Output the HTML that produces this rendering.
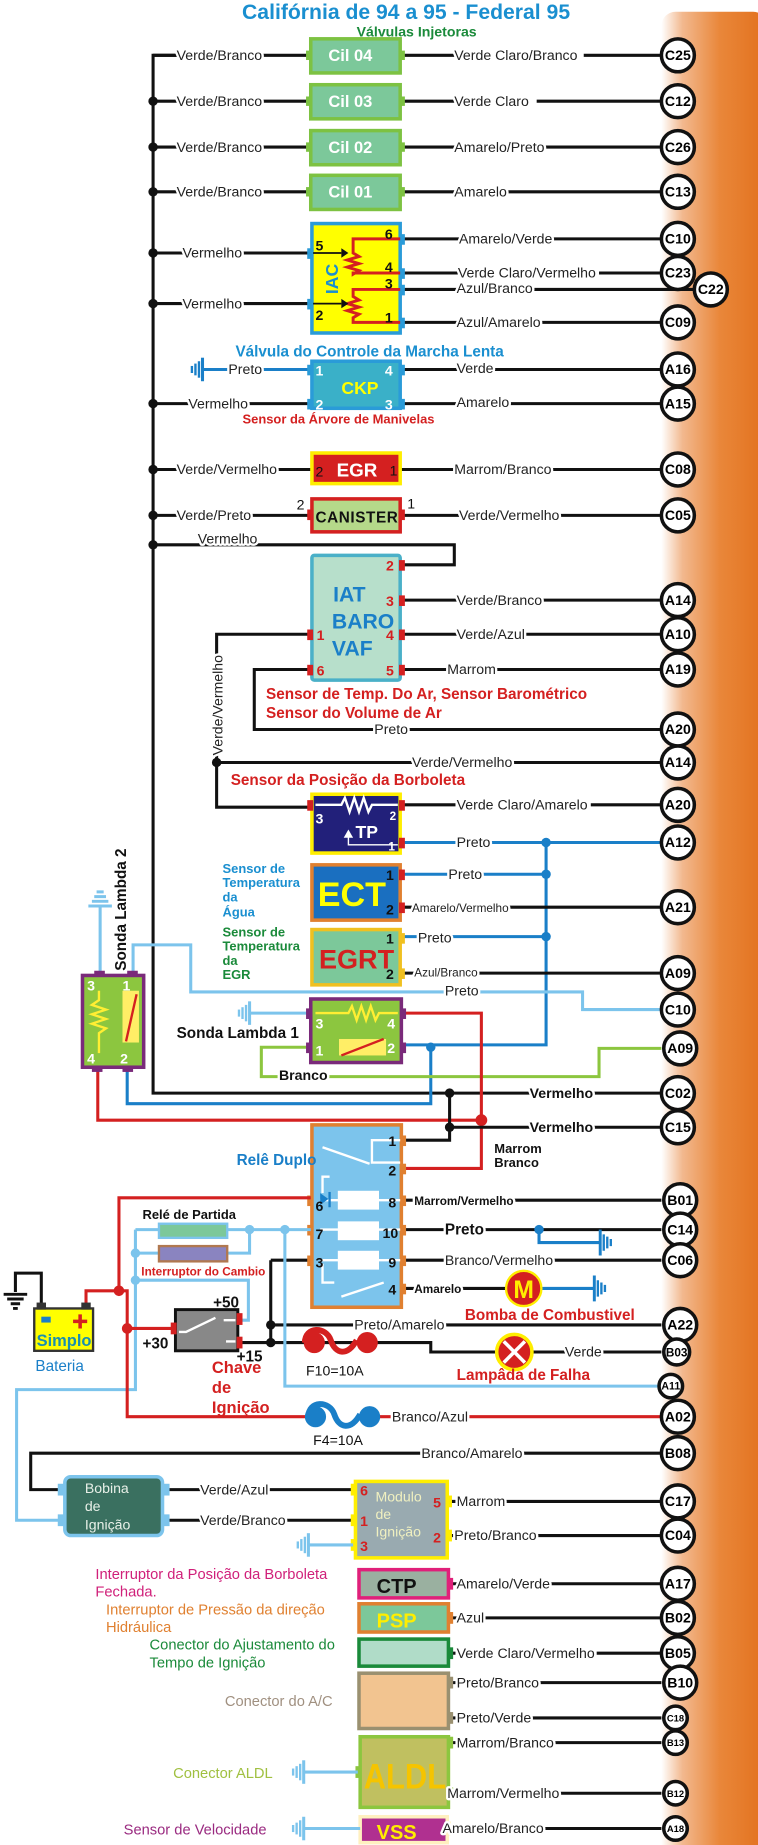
<!DOCTYPE html>
<html><head><meta charset="utf-8">
<style>
html,body{margin:0;padding:0;background:#fff;}
svg{display:block;}
text{font-family:"Liberation Sans",sans-serif;}
.w{stroke:#111;stroke-width:2.6;fill:none;}
.lb{stroke:#7cc4ec;stroke-width:2.6;fill:none;}
.bl{stroke:#1a7fc8;stroke-width:2.6;fill:none;}
.rd{stroke:#d42020;stroke-width:2.6;fill:none;}
.gr{stroke:#8cc63f;stroke-width:2.6;fill:none;}
.lab{font-size:12px;fill:#222;paint-order:stroke;stroke:#fff;stroke-width:4px;stroke-linejoin:round;}
.labb{font-size:12px;font-weight:bold;fill:#111;paint-order:stroke;stroke:#fff;stroke-width:4px;}
.cn{font-size:12px;font-weight:bold;fill:#000;text-anchor:middle;}
.pin{font-size:12px;font-weight:bold;}
</style></head><body>
<svg width="758" height="1845" viewBox="0 0 644 1568" xmlns="http://www.w3.org/2000/svg">
<defs>
<linearGradient id="og" x1="0" x2="1" y1="0" y2="0">
<stop offset="0" stop-color="#ffffff"/><stop offset="0.2" stop-color="#f2b88e"/><stop offset="0.55" stop-color="#e9873a"/><stop offset="1" stop-color="#e2701c"/>
</linearGradient>
<g id="gndL"><line x1="0" y1="-10" x2="0" y2="10" stroke-width="2.6"/><line x1="-3" y1="-7" x2="-3" y2="7" stroke-width="2"/><line x1="-6" y1="-5" x2="-6" y2="5" stroke-width="2"/><line x1="-9" y1="-3" x2="-9" y2="3" stroke-width="2"/></g>
</defs>
<rect x="562" y="10" width="90" height="1570" rx="12" fill="url(#og)"/>

<text x="345" y="16" font-size="18" font-weight="bold" fill="#1a8fd0" text-anchor="middle">Califórnia de 94 a 95 - Federal 95</text>
<text x="354" y="31" font-size="12" font-weight="bold" fill="#1a8a3a" text-anchor="middle">Válvulas Injetoras</text>

<!-- main bus -->
<path class="w" d="M153 47 H130 V929 H562"/>
<g fill="#111">
<circle cx="130" cy="86" r="4"/><circle cx="130" cy="125" r="4"/><circle cx="130" cy="163" r="4"/><circle cx="130" cy="215" r="4"/><circle cx="130" cy="258" r="4"/><circle cx="130" cy="343" r="4"/><circle cx="130" cy="399" r="4"/><circle cx="130" cy="438" r="4"/><circle cx="130" cy="463" r="4"/>
</g>

<!-- injectors -->
<g>
<path class="w" d="M130 47H263M130 86H263M130 125H263M130 163H263M341 47H562M341 86H562M341 125H562M341 163H562"/>
<g fill="#7cc89a" stroke="#7dc242" stroke-width="3">
<rect x="264" y="33" width="76" height="29"/><rect x="264" y="72" width="76" height="29"/><rect x="264" y="111" width="76" height="29"/><rect x="264" y="149" width="76" height="29"/></g>
<g fill="#7dc242"><rect x="260" y="43" width="4" height="8"/><rect x="340" y="43" width="4" height="8"/><rect x="260" y="82" width="4" height="8"/><rect x="340" y="82" width="4" height="8"/><rect x="260" y="121" width="4" height="8"/><rect x="340" y="121" width="4" height="8"/><rect x="260" y="159" width="4" height="8"/><rect x="340" y="159" width="4" height="8"/></g>
<g font-size="14" font-weight="bold" fill="#fff"><text x="279" y="52">Cil 04</text><text x="279" y="91">Cil 03</text><text x="279" y="130">Cil 02</text><text x="279" y="168">Cil 01</text></g>
<g fill="#fff"><rect x="386" y="40" width="110" height="14"/><rect x="386" y="79" width="70" height="14"/></g>
<g class="lab"><text x="150" y="51">Verde/Branco</text><text x="150" y="90">Verde/Branco</text><text x="150" y="129">Verde/Branco</text><text x="150" y="167">Verde/Branco</text>
<text x="386" y="51">Verde Claro/Branco</text><text x="386" y="90">Verde Claro</text><text x="386" y="129">Amarelo/Preto</text><text x="386" y="167">Amarelo</text></g>
</g>

<!-- IAC -->
<path class="w" d="M130 215H264M130 258H264M341 203H562M341 232H562M341 246H600M341 274H562"/>
<rect x="265" y="190" width="75" height="93" fill="#ffff00" stroke="#2a9bd8" stroke-width="3"/>
<g fill="#2a9bd8"><rect x="261" y="211" width="5" height="9"/><rect x="261" y="254" width="5" height="9"/><rect x="339" y="199" width="5" height="9"/><rect x="339" y="228" width="5" height="9"/><rect x="339" y="242" width="5" height="9"/><rect x="339" y="270" width="5" height="9"/></g>
<path d="M340 203H300V215 l5 3 -10 3 10 3 -10 3 10 3 -5 3V232H340 M340 246H300V252 l5 3 -10 3 10 3 -10 3 10 3 -5 3V274H340" stroke="#d42020" stroke-width="2.5" fill="none"/>
<path d="M266 215H290M266 258H290" stroke="#111" stroke-width="1.5"/><path d="M290 211l6 4-6 4zM290 254l6 4-6 4z" fill="#111"/>
<text transform="translate(287,250) rotate(-90)" font-size="15" font-weight="bold" fill="#1a8fd0">IAC</text>
<g class="pin" fill="#111"><text x="268" y="213">5</text><text x="268" y="272">2</text><text x="327" y="203">6</text><text x="327" y="231">4</text><text x="327" y="245">3</text><text x="327" y="274">1</text></g>
<rect x="389" y="225" width="120" height="14" fill="#fff"/>
<g class="lab"><text x="155" y="219">Vermelho</text><text x="155" y="262">Vermelho</text>
<text x="390" y="207">Amarelo/Verde</text><text x="389" y="236">Verde Claro/Vermelho</text><text x="388" y="249">Azul/Branco</text><text x="388" y="278">Azul/Amarelo</text></g>

<text x="200" y="303" font-size="13" font-weight="bold" fill="#1a8fd0">Válvula do Controle da Marcha Lenta</text>
<!-- CKP -->
<path class="bl" d="M172 314H264"/><use href="#gndL" x="172" y="314" stroke="#1a7fc8"/>
<path class="w" d="M130 343H264M341 314H562M341 343H562"/>
<rect x="265" y="307" width="75" height="40" fill="#3ab0c8" stroke="#2a9bd8" stroke-width="3"/>
<g fill="#2a9bd8"><rect x="261" y="310" width="5" height="9"/><rect x="261" y="339" width="5" height="9"/><rect x="339" y="310" width="5" height="9"/><rect x="339" y="339" width="5" height="9"/></g>
<text x="290" y="335" font-size="15" font-weight="bold" fill="#ffff00">CKP</text>
<g class="pin" fill="#fff"><text x="268" y="319">1</text><text x="268" y="348">2</text><text x="327" y="319">4</text><text x="327" y="348">3</text></g>
<g class="lab"><text x="194" y="318">Preto</text><text x="160" y="347">Vermelho</text><text x="388" y="317">Verde</text><text x="388" y="346">Amarelo</text></g>
<text x="206" y="360" font-size="11" font-weight="bold" fill="#d42020">Sensor  da Árvore de Manivelas</text>

<!-- EGR -->
<path class="w" d="M130 399H264M341 399H562"/>
<rect x="265" y="385" width="75" height="26" fill="#d42020" stroke="#ffee00" stroke-width="3"/>
<text x="286" y="405" font-size="16" font-weight="bold" fill="#fff">EGR</text>
<g font-size="12" fill="#111"><text x="268" y="405">2</text><text x="331" y="404">1</text></g>
<g class="lab"><text x="150" y="403">Verde/Vermelho</text><text x="386" y="403">Marrom/Branco</text></g>
<!-- CANISTER -->
<path class="w" d="M130 438H264M341 438H562"/>
<rect x="265" y="424" width="75" height="28" fill="#b5d98a" stroke="#d42020" stroke-width="3"/>
<g fill="#d42020"><rect x="261" y="433" width="5" height="9"/><rect x="339" y="433" width="5" height="9"/></g>
<text x="268" y="444" font-size="13" font-weight="bold" fill="#111" textLength="70">CANISTER</text>
<g font-size="12" fill="#111"><text x="252" y="433">2</text><text x="346" y="432">1</text></g>
<g class="lab"><text x="150" y="442">Verde/Preto</text><text x="390" y="442">Verde/Vermelho</text></g>

<!-- IAT -->
<path class="w" d="M130 463H386V480H341M341 510H562M341 539H562M341 569H562M264 539H184V686H264M264 569H216V620H562M184 648H562"/>
<circle cx="184" cy="648" r="4" fill="#111"/>
<rect x="265" y="472" width="75" height="106" rx="2" fill="#b7dfcb" stroke="#4ab0c8" stroke-width="3"/>
<g fill="#d42020"><rect x="339" y="476" width="5" height="9"/><rect x="339" y="506" width="5" height="9"/><rect x="339" y="535" width="5" height="9"/><rect x="339" y="565" width="5" height="9"/><rect x="261" y="535" width="5" height="9"/><rect x="261" y="565" width="5" height="9"/></g>
<g class="pin" fill="#d42020" font-size="14"><text x="328" y="485">2</text><text x="328" y="515">3</text><text x="328" y="544">4</text><text x="328" y="574">5</text><text x="269" y="544">1</text><text x="269" y="574">6</text></g>
<g font-size="18" font-weight="bold" fill="#1a7fc8"><text x="283" y="511">IAT</text><text x="282" y="534">BARO</text><text x="282" y="557">VAF</text></g>
<g class="lab"><text x="168" y="462">Vermelho</text><text x="388" y="514">Verde/Branco</text><text x="388" y="543">Verde/Azul</text><text x="380" y="573">Marrom</text><text x="318" y="624">Preto</text><text x="350" y="652">Verde/Vermelho</text></g>
<text transform="translate(189,642) rotate(-90)" class="lab">Verde/Vermelho</text>
<g font-size="13" font-weight="bold" fill="#d42020"><text x="226" y="594">Sensor de Temp. Do Ar, Sensor Barométrico</text><text x="226" y="610">Sensor do Volume de Ar</text><text x="196" y="667">Sensor da Posição da Borboleta</text></g>

<!-- TP -->
<path class="w" d="M341 684H562"/>
<path class="bl" d="M341 716H562M464 716V888H341M341 743H464M341 796H464M366 890V938H108V905"/>
<rect x="265" y="675" width="75" height="50" fill="#22207a" stroke="#ffee00" stroke-width="3"/>
<g fill="#d42020"><rect x="261" y="680" width="5" height="9"/><rect x="339" y="680" width="5" height="9"/><rect x="339" y="712" width="5" height="9"/></g>
<path d="M268 684H290 l3 -6 4 12 4 -12 4 12 4 -12 4 12 3 -6H338" stroke="#fff" stroke-width="2" fill="none"/>
<path d="M296 710V718H338" stroke="#fff" stroke-width="1.2" fill="none"/><path d="M292 712l4-7 4 7z" fill="#fff"/>
<text x="302" y="712" font-size="15" font-weight="bold" fill="#fff">TP</text>
<g class="pin" fill="#fff"><text x="268" y="700">3</text><text x="331" y="697" font-size="10">2</text><text x="330" y="723" font-size="10">1</text></g>
<g fill="#1a7fc8"><circle cx="464" cy="716" r="4"/><circle cx="464" cy="743" r="4"/><circle cx="464" cy="796" r="4"/><circle cx="366" cy="890" r="4"/></g>
<rect x="387" y="677" width="115" height="14" fill="#fff"/>
<g class="lab"><text x="388" y="688">Verde Claro/Amarelo</text><text x="388" y="720">Preto</text></g>

<!-- ECT -->
<path class="w" d="M341 771H562M341 827H562"/>
<rect x="265" y="735" width="75" height="47" fill="#1a6fc0" stroke="#e08030" stroke-width="3"/>
<g fill="#d42020"><rect x="339" y="739" width="5" height="9"/><rect x="339" y="767" width="5" height="9"/></g>
<text x="270" y="770" font-size="29" font-weight="bold" fill="#ffff00">ECT</text>
<g class="pin" fill="#111" font-size="14"><text x="328" y="748">1</text><text x="328" y="777">2</text></g>
<g class="lab"><text x="381" y="747">Preto</text><text x="350" y="775" font-size="10">Amarelo/Vermelho</text></g>
<g font-size="11" font-weight="bold" fill="#1a8fd0"><text x="189" y="742">Sensor de</text><text x="189" y="754">Temperatura</text><text x="189" y="766">da</text><text x="189" y="779">Água</text></g>
<!-- EGRT -->
<rect x="265" y="790" width="75" height="47" fill="#7cc89a" stroke="#f0c020" stroke-width="3"/>
<g fill="#f0c020"><rect x="339" y="793" width="5" height="9"/><rect x="339" y="823" width="5" height="9"/></g>
<text x="271" y="823" font-size="23" font-weight="bold" fill="#d42020">EGRT</text>
<g class="pin" fill="#111" font-size="14"><text x="328" y="802">1</text><text x="328" y="832">2</text></g>
<g class="lab"><text x="355" y="801">Preto</text><text x="352" y="830" font-size="10">Azul/Branco</text></g>
<g font-size="11" font-weight="bold" fill="#1a8a3a"><text x="189" y="796">Sensor de</text><text x="189" y="808">Temperatura</text><text x="189" y="820">da</text><text x="189" y="832">EGR</text></g>

<!-- Lambda wiring -->
<path class="lb" d="M113 829V803H162V843H495V858H562"/>
<path class="lb" d="M85 829V770"/>
<path d="M75 770h20M78 766h14M80 762h10M82 758h6" stroke="#7cc4ec" stroke-width="2.5"/>
<text class="lab" x="378" y="846">Preto</text>
<path class="lb" d="M212 861H264"/><use href="#gndL" x="212" y="861" stroke="#7cc4ec"/>
<path class="gr" d="M264 890H222V915H509V891H562"/>
<path class="rd" d="M341 861H409V993H341M83 907V952H409"/>
<circle cx="409" cy="952" r="5" fill="#d42020"/>
<path class="w" d="M382 929V969H341M382 958H562"/>
<g fill="#111"><circle cx="382" cy="929" r="4"/><circle cx="382" cy="958" r="4"/></g>
<rect x="264" y="849" width="77" height="54" fill="#8cc63f" stroke="#7a2a7a" stroke-width="3"/>
<g fill="#7a2a7a"><rect x="260" y="857" width="5" height="9"/><rect x="260" y="886" width="5" height="9"/><rect x="340" y="857" width="5" height="9"/><rect x="340" y="886" width="5" height="9"/></g>
<path d="M268 861H296 l3 -6 4 12 4 -12 4 12 4 -12 4 12 3 -6H338" stroke="#ffee33" stroke-width="2" fill="none"/>
<rect x="288" y="883" width="40" height="14" fill="#ffee66"/><path d="M290 897l36-14" stroke="#d42020" stroke-width="2"/>
<g class="pin" fill="#fff"><text x="268" y="874">3</text><text x="268" y="897">1</text><text x="329" y="874">4</text><text x="329" y="895">2</text></g>
<text x="150" y="882" font-size="13" font-weight="bold" fill="#111">Sonda Lambda 1</text>
<text class="labb" x="237" y="918" font-size="13">Branco</text>
<!-- Sonda 2 -->
<rect x="70" y="829" width="52" height="78" fill="#8cc63f" stroke="#7a2a7a" stroke-width="3"/>
<g fill="#7a2a7a"><rect x="80" y="825" width="9" height="5"/><rect x="108" y="825" width="9" height="5"/><rect x="78" y="906" width="9" height="5"/><rect x="104" y="906" width="9" height="5"/></g>
<path d="M84 842V850 l-6 4 12 4 -12 4 12 4 -12 4 12 4 -6 4V895" stroke="#ffee33" stroke-width="2" fill="none"/>
<rect x="104" y="842" width="14" height="44" fill="#ffee66"/><path d="M107 885l9-40" stroke="#d42020" stroke-width="2"/>
<g class="pin" fill="#fff"><text x="74" y="842">3</text><text x="104" y="842">1</text><text x="74" y="904">4</text><text x="102" y="904">2</text></g>
<text transform="translate(107,825) rotate(-90)" font-size="13" font-weight="bold" fill="#111">Sonda Lambda 2</text>

<g class="labb" font-size="13"><text x="450" y="933">Vermelho</text><text x="450" y="962">Vermelho</text></g>
<g font-size="11" font-weight="bold" fill="#111"><text x="420" y="980">Marrom</text><text x="420" y="992">Branco</text></g>

<!-- Relay -->
<path class="w" d="M341 1020H562M341 1045H562M341 1071H562M230 1071H264M230 1071V1143M230 1126H562M204 1141H366V1149H562M341 1095H440"/>
<g fill="#111"><circle cx="230" cy="1126" r="4"/><circle cx="230" cy="1141" r="4"/></g>
<rect x="265" y="956" width="76" height="155" fill="#7cc4ec" stroke="#e08030" stroke-width="3"/>
<g fill="#e08030"><rect x="340" y="965" width="5" height="9"/><rect x="340" y="989" width="5" height="9"/><rect x="340" y="1016" width="5" height="9"/><rect x="340" y="1041" width="5" height="9"/><rect x="340" y="1067" width="5" height="9"/><rect x="340" y="1091" width="5" height="9"/><rect x="261" y="1016" width="5" height="9"/><rect x="261" y="1041" width="5" height="9"/><rect x="261" y="1067" width="5" height="9"/></g>
<g fill="#fff"><rect x="287" y="1012" width="35" height="16"/><rect x="287" y="1038" width="35" height="16"/><rect x="287" y="1063" width="35" height="16"/></g>
<path d="M340 969H316V988H340M274 975l40 14M274 1014V1000H280M272 1020H340M272 1045H340M272 1071H340M274 1074V1090H284M290 1102l36-12" stroke="#fff" stroke-width="2" fill="none"/>
<path d="M272 1014l7 5-7 5z" fill="#1a7fc8"/><path d="M280 1013v13" stroke="#1a7fc8" stroke-width="2"/>
<g class="pin" fill="#111" font-size="14"><text x="330" y="974">1</text><text x="330" y="999">2</text><text x="330" y="1026">8</text><text x="325" y="1052">10</text><text x="330" y="1077">9</text><text x="330" y="1100">4</text><text x="268" y="1029">6</text><text x="268" y="1053">7</text><text x="268" y="1077">3</text></g>
<text x="201" y="990" font-size="13" font-weight="bold" fill="#1a7fc8">Relê Duplo</text>
<g class="labb"><text x="352" y="1024" font-size="10">Marrom/Vermelho</text><text x="378" y="1049" font-size="13">Preto</text><text x="352" y="1099" font-size="10">Amarelo</text></g>
<text class="lab" x="378" y="1075">Branco/Vermelho</text>
<path class="bl" d="M458 1045V1056H510"/><circle cx="458" cy="1045" r="4" fill="#1a7fc8"/>
<g transform="translate(510,1056)"><line x1="0" y1="-11" x2="0" y2="11" stroke="#1a7fc8" stroke-width="2.5"/><path d="M3 -7v14M6 -5v10M9 -3v6" stroke="#1a7fc8" stroke-width="2"/></g>
<path class="bl" d="M455 1095H505"/>
<g transform="translate(505,1095)"><line x1="0" y1="-11" x2="0" y2="11" stroke="#1a7fc8" stroke-width="2.5"/><path d="M3 -7v14M6 -5v10M9 -3v6" stroke="#1a7fc8" stroke-width="2"/></g>
<circle cx="445" cy="1095" r="15" fill="#d42020" stroke="#ffee00" stroke-width="2"/>
<text x="445" y="1103" font-size="21" font-weight="bold" fill="#ffee00" text-anchor="middle">M</text>
<text x="395" y="1122" font-size="13" font-weight="bold" fill="#d42020">Bomba de Combustivel</text>
<text class="lab" x="301" y="1130">Preto/Amarelo</text>

<!-- F10 & lamp -->
<path d="M259 1141 c0-14 18-14 22-2 s14 14 22 0" stroke="#d42020" stroke-width="5" fill="none"/>
<circle cx="267" cy="1141" r="9" fill="#d42020"/><circle cx="312" cy="1141" r="9" fill="#d42020"/>
<text x="260" y="1169" font-size="12" fill="#111">F10=10A</text>
<circle cx="437" cy="1149" r="15" fill="#d42020" stroke="#ffee00" stroke-width="3"/>
<path d="M428 1140l18 18M446 1140l-18 18" stroke="#fff" stroke-width="3"/>
<text class="lab" x="480" y="1153">Verde</text>
<text x="388" y="1173" font-size="13" font-weight="bold" fill="#d42020">Lampâda de Falha</text>

<!-- light blue network -->
<path class="lb" d="M115 1045H264M115 1045V1181H14V1292H50M115 1088H211V1122H204M212 1045V1065H193M115 1065H136M242 1045V1178H562"/>
<g fill="#7cc4ec"><circle cx="115" cy="1065" r="4"/><circle cx="115" cy="1088" r="4"/><circle cx="212" cy="1045" r="4"/><circle cx="242" cy="1045" r="4"/></g>
<rect x="135" y="1040" width="58" height="12" fill="#7cc89a" stroke="#7cc4ec" stroke-width="2"/>
<rect x="135" y="1059" width="58" height="13" fill="#8a84c0" stroke="#b07850" stroke-width="2"/>
<text x="121" y="1036" font-size="11" font-weight="bold" fill="#111">Relé de Partida</text>
<text x="120" y="1084" font-size="10" font-weight="bold" fill="#d42020">Interruptor do Cambio</text>

<!-- red power -->
<path class="rd" d="M264 1018H101V1097H73V1112M101 1097H108V1204H260M108 1129H148M320 1204H562"/>
<g fill="#d42020"><circle cx="101" cy="1097" r="4.5"/><circle cx="108" cy="1129" r="4.5"/></g>
<!-- battery -->
<path class="w" d="M35 1112V1082H13V1098"/>
<g stroke="#111" stroke-width="2.5"><path d="M3 1100h20M6 1104h14M9 1108h8M11 1112h4"/></g>
<rect x="29" y="1112" width="50" height="36" fill="#ffff00" stroke="#333" stroke-width="2"/>
<rect x="31" y="1107" width="8" height="6" fill="#333"/><rect x="69" y="1107" width="8" height="6" fill="#333"/>
<rect x="35" y="1119" width="8" height="5" fill="#1a7fc8"/>
<path d="M68 1117v12M62 1123h12" stroke="#d42020" stroke-width="3"/>
<text x="31" y="1144" font-size="14" font-weight="bold" fill="#1a8fb0">Simplo</text>
<text x="30" y="1165" font-size="13" fill="#1a7fc8">Bateria</text>
<!-- switch -->
<rect x="149" y="1113" width="53" height="35" fill="#888" stroke="#111" stroke-width="2.5"/>
<g fill="#d42020"><rect x="145" y="1124" width="5" height="10"/><rect x="201" y="1116" width="5" height="10"/><rect x="201" y="1136" width="5" height="10"/></g>
<path d="M152 1132H158l25-12M190 1122h10M192 1140h8" stroke="#fff" stroke-width="2" fill="none"/>
<g font-size="13" font-weight="bold" fill="#111"><text x="181" y="1111">+50</text><text x="121" y="1146">+30</text><text x="201" y="1157">+15</text></g>
<g font-size="14" font-weight="bold" fill="#d42020"><text x="180" y="1167">Chave</text><text x="180" y="1184">de</text><text x="180" y="1201">Ignição</text></g>

<!-- F4 -->
<path d="M262 1204 c0-14 18-14 22-2 s14 14 22 0" stroke="#1a7fc8" stroke-width="5" fill="none"/>
<circle cx="268" cy="1204" r="9" fill="#1a7fc8"/><circle cx="314" cy="1204" r="9" fill="#1a7fc8"/>
<text x="266" y="1228" font-size="12" fill="#111">F4=10A</text>
<text class="lab" x="333" y="1208">Branco/Azul</text>

<!-- B08 & coil -->
<path class="w" d="M562 1235H26V1266H50M142 1266H300M142 1292H300M383 1276H562M383 1305H562"/>
<text class="lab" x="358" y="1239">Branco/Amarelo</text>
<rect x="55" y="1255" width="83" height="50" rx="5" fill="#3a7060" stroke="#7cc4ec" stroke-width="3"/>
<g fill="#7cc4ec"><rect x="49" y="1261" width="7" height="10"/><rect x="49" y="1287" width="7" height="10"/><rect x="137" y="1261" width="7" height="10"/><rect x="137" y="1287" width="7" height="10"/></g>
<g font-size="12" fill="#e8f0e8"><text x="72" y="1269">Bobina</text><text x="72" y="1284">de</text><text x="72" y="1300">Ignição</text></g>
<g class="lab"><text x="170" y="1270">Verde/Azul</text><text x="170" y="1296">Verde/Branco</text><text x="388" y="1280">Marrom</text><text x="386" y="1309">Preto/Branco</text></g>
<rect x="302" y="1259" width="78" height="65" fill="#99aab0" stroke="#ffee00" stroke-width="3"/>
<g fill="#ffee00"><rect x="298" y="1261" width="5" height="10"/><rect x="298" y="1287" width="5" height="10"/><rect x="298" y="1308" width="5" height="10"/><rect x="379" y="1271" width="5" height="10"/><rect x="379" y="1300" width="5" height="10"/></g>
<g class="pin" fill="#d42020"><text x="306" y="1271">6</text><text x="306" y="1297">1</text><text x="306" y="1318">3</text><text x="368" y="1281">5</text><text x="368" y="1311">2</text></g>
<g font-size="12" fill="#f0f0c0"><text x="319" y="1276">Modulo</text><text x="319" y="1291">de</text><text x="319" y="1306">Ignição</text></g>
<path class="lb" d="M262 1313H300"/><use href="#gndL" x="262" y="1313" stroke="#7cc4ec"/>

<!-- bottom components -->
<path class="w" d="M383 1346H562M383 1375H562M383 1405H562M383 1430H562M383 1460H562M383 1481H562M383 1524H562M383 1554H562"/>
<rect x="305" y="1334" width="76" height="24" fill="#9ab0a0" stroke="#e0207a" stroke-width="3"/><rect x="380" y="1341" width="5" height="10" fill="#e0207a"/>
<text x="320" y="1354" font-size="17" font-weight="bold" fill="#111">CTP</text>
<rect x="305" y="1363" width="76" height="24" fill="#7cc89a" stroke="#e08030" stroke-width="3"/><rect x="380" y="1370" width="5" height="10" fill="#e08030"/>
<text x="320" y="1383" font-size="17" font-weight="bold" fill="#ffee00">PSP</text>
<rect x="305" y="1393" width="76" height="23" fill="#b0dcc8" stroke="#1a8a3a" stroke-width="3"/><rect x="380" y="1400" width="5" height="10" fill="#1a8a3a"/>
<rect x="305" y="1422" width="76" height="47" fill="#f2c490" stroke="#9a9070" stroke-width="3"/><rect x="380" y="1425" width="5" height="10" fill="#9a9070"/><rect x="380" y="1455" width="5" height="10" fill="#9a9070"/>
<rect x="306" y="1476" width="75" height="60" fill="#c0c060" stroke="#8cc63f" stroke-width="3"/><rect x="380" y="1476" width="5" height="10" fill="#8cc63f"/><rect x="380" y="1519" width="5" height="10" fill="#8cc63f"/><rect x="302" y="1501" width="5" height="10" fill="#8cc63f"/>
<text x="309" y="1520" font-size="30" font-weight="bold" fill="#f5c400" textLength="70" lengthAdjust="spacingAndGlyphs">ALDL</text>
<rect x="306" y="1544" width="74" height="22" fill="#b03090" stroke="#fff0c0" stroke-width="3"/><rect x="379" y="1548" width="4" height="12" fill="#fff0c0"/>
<text x="320" y="1563" font-size="17" font-weight="bold" fill="#ffee00">VSS</text>
<path class="lb" d="M258 1506H304M258 1554H306"/><use href="#gndL" x="258" y="1506" stroke="#7cc4ec"/><use href="#gndL" x="258" y="1554" stroke="#7cc4ec"/>
<rect x="387" y="1398" width="120" height="14" fill="#fff"/>
<g class="lab"><text x="388" y="1350">Amarelo/Verde</text><text x="388" y="1379">Azul</text><text x="388" y="1409">Verde Claro/Vermelho</text><text x="388" y="1434">Preto/Branco</text><text x="388" y="1464">Preto/Verde</text><text x="388" y="1485">Marrom/Branco</text><text x="380" y="1528">Marrom/Vermelho</text><text x="376" y="1558">Amarelo/Branco</text></g>
<g font-size="12.5"><text x="81" y="1342" fill="#d0207a">Interruptor da Posição da Borboleta</text><text x="81" y="1357" fill="#d0207a">Fechada.</text>
<text x="90" y="1372" fill="#e08030">Interruptor de Pressão da direção</text><text x="90" y="1387" fill="#e08030">Hidráulica</text>
<text x="127" y="1402" fill="#1a8a3a">Conector do Ajustamento do</text><text x="127" y="1417" fill="#1a8a3a">Tempo de Ignição</text>
<text x="191" y="1450" fill="#a09080">Conector do A/C</text>
<text x="147" y="1511" fill="#a0c040">Conector ALDL</text>
<text x="105" y="1559" fill="#9a2a80">Sensor de Velocidade</text></g>

<!-- connector circles -->
<g fill="#fff" stroke="#111" stroke-width="3">
<circle cx="576" cy="47" r="14"/><circle cx="576" cy="86" r="14"/><circle cx="576" cy="125" r="14"/><circle cx="576" cy="163" r="14"/>
<circle cx="576" cy="203" r="14"/><circle cx="576" cy="232" r="14"/><circle cx="604" cy="246" r="14"/><circle cx="576" cy="274" r="14"/>
<circle cx="576" cy="314" r="14"/><circle cx="576" cy="343" r="14"/><circle cx="576" cy="399" r="14"/><circle cx="576" cy="438" r="14"/>
<circle cx="576" cy="510" r="14"/><circle cx="576" cy="539" r="14"/><circle cx="576" cy="569" r="14"/><circle cx="576" cy="620" r="14"/>
<circle cx="576" cy="648" r="14"/><circle cx="576" cy="684" r="14"/><circle cx="576" cy="716" r="14"/><circle cx="576" cy="771" r="14"/>
<circle cx="576" cy="827" r="14"/><circle cx="576" cy="858" r="14"/><circle cx="578" cy="891" r="14"/><circle cx="576" cy="929" r="14"/><circle cx="576" cy="958" r="14"/>
<circle cx="578" cy="1020" r="14"/><circle cx="578" cy="1045" r="14"/><circle cx="578" cy="1071" r="14"/><circle cx="578" cy="1126" r="14"/>
<circle cx="575" cy="1149" r="11"/><circle cx="570" cy="1178" r="10"/><circle cx="576" cy="1204" r="14"/><circle cx="576" cy="1235" r="14"/>
<circle cx="576" cy="1276" r="14"/><circle cx="576" cy="1305" r="14"/><circle cx="576" cy="1346" r="14"/><circle cx="576" cy="1375" r="14"/>
<circle cx="576" cy="1405" r="14"/><circle cx="578" cy="1430" r="14"/><circle cx="574" cy="1460" r="10"/><circle cx="574" cy="1481" r="10"/><circle cx="574" cy="1524" r="10"/><circle cx="574" cy="1554" r="10"/>
</g>
<g class="cn">
<text x="576" y="51">C25</text><text x="576" y="90">C12</text><text x="576" y="129">C26</text><text x="576" y="167">C13</text>
<text x="576" y="207">C10</text><text x="576" y="236">C23</text><text x="604" y="250">C22</text><text x="576" y="278">C09</text>
<text x="576" y="318">A16</text><text x="576" y="347">A15</text><text x="576" y="403">C08</text><text x="576" y="442">C05</text>
<text x="576" y="514">A14</text><text x="576" y="543">A10</text><text x="576" y="573">A19</text><text x="576" y="624">A20</text>
<text x="576" y="652">A14</text><text x="576" y="688">A20</text><text x="576" y="720">A12</text><text x="576" y="775">A21</text>
<text x="576" y="831">A09</text><text x="576" y="862">C10</text><text x="578" y="895">A09</text><text x="576" y="933">C02</text><text x="576" y="962">C15</text>
<text x="578" y="1024">B01</text><text x="578" y="1049">C14</text><text x="578" y="1075">C06</text><text x="578" y="1130">A22</text>
<text x="575" y="1153" font-size="10">B03</text><text x="570" y="1181" font-size="9">A11</text><text x="576" y="1208">A02</text><text x="576" y="1239">B08</text>
<text x="576" y="1280">C17</text><text x="576" y="1309">C04</text><text x="576" y="1350">A17</text><text x="576" y="1379">B02</text>
<text x="576" y="1409">B05</text><text x="578" y="1434">B10</text><text x="574" y="1463" font-size="8">C18</text><text x="574" y="1484" font-size="8">B13</text><text x="574" y="1527" font-size="8">B12</text><text x="574" y="1557" font-size="8">A18</text>
</g>
</svg>
</body></html>
